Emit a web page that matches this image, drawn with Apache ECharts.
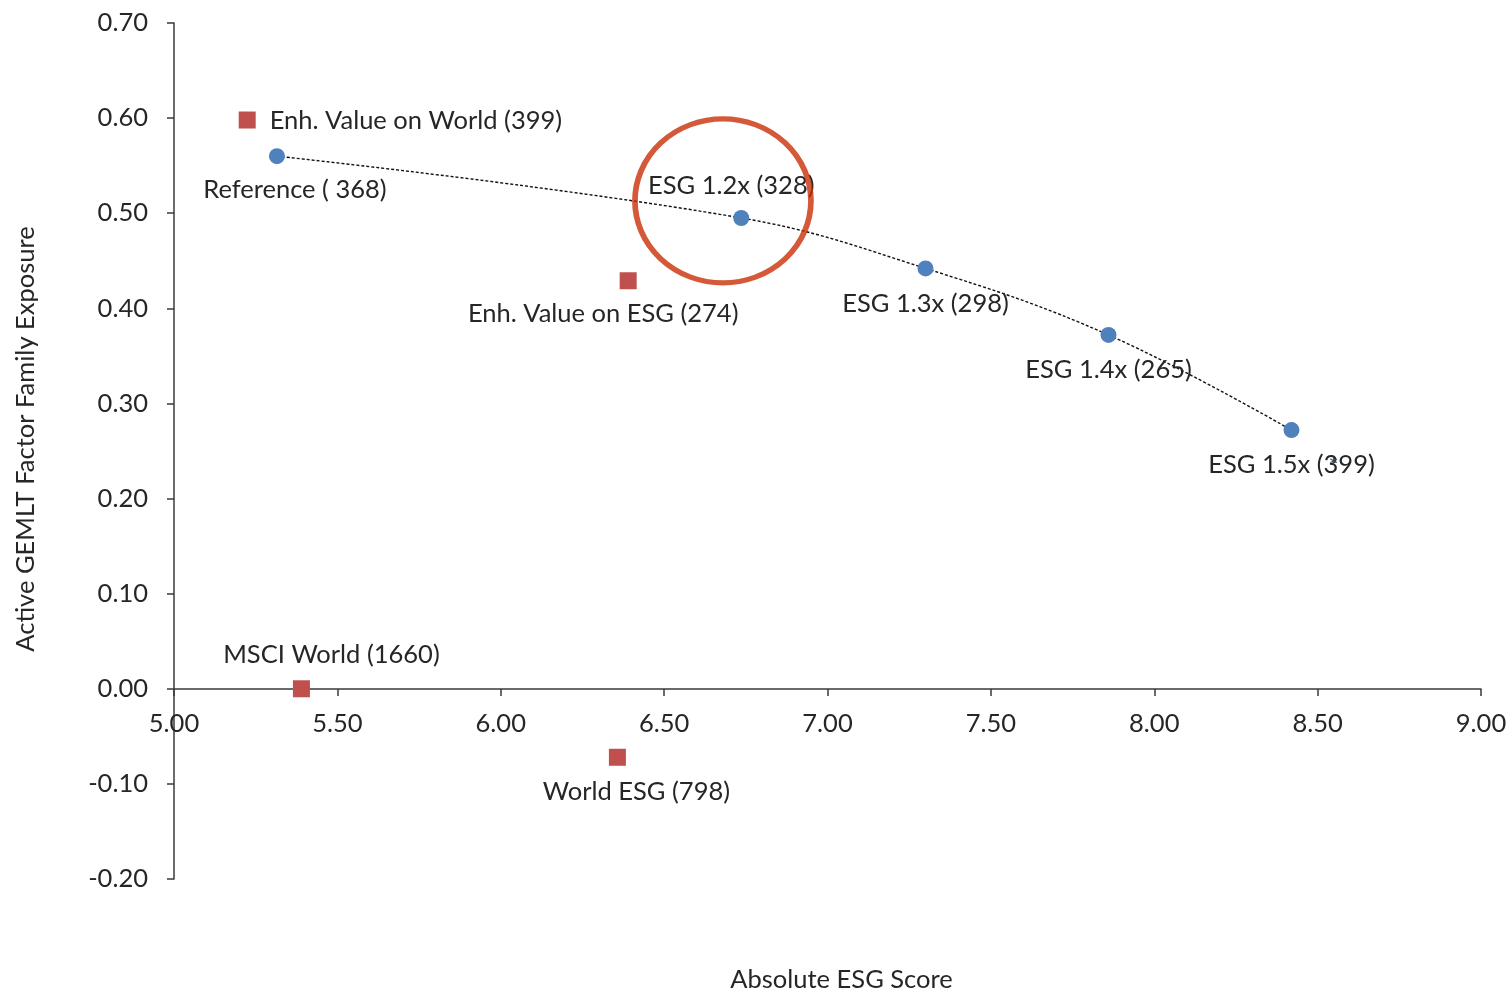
<!DOCTYPE html>
<html>
<head>
<meta charset="utf-8">
<title>Active GEMLT Factor Family Exposure vs Absolute ESG Score</title>
<script src="https://cdn.jsdelivr.net/npm/echarts@6/dist/echarts.min.js"></script>
<style>
  html, body { margin: 0; padding: 0; background: #ffffff; }
  #chart { width: 1509px; height: 991px; }
</style>
</head>
<body>
<div id="chart"></div>
<script>
// ESG-tilted portfolios (blue circles joined by the trend line)
const esgNames = ['Reference ( 368)', 'ESG 1.2x (328)', 'ESG 1.3x (298)', 'ESG 1.4x (265)', 'ESG 1.5x (399)'];
const esgScore = [5.315, 6.736, 7.30, 7.86, 8.42];
const esgExposure = [0.560, 0.495, 0.442, 0.372, 0.272];

// Benchmarks and value portfolios (red squares)
const benchNames = ['Enh. Value on World (399)', 'Enh. Value on ESG (274)', 'MSCI World (1660)', 'World ESG (798)'];
const benchScore = [5.224, 6.39, 5.39, 6.357];
const benchExposure = [0.598, 0.429, 0.000, -0.072];

// Highlighted portfolio ring
const ringCenter = [6.68, 0.513];

// Axis ticks
const xTicks = [5.0, 5.5, 6.0, 6.5, 7.0, 7.5, 8.0, 8.5, 9.0];
const yTicks = [-0.2, -0.1, 0.0, 0.1, 0.2, 0.3, 0.4, 0.5, 0.6, 0.7];

const FONT = 'Lato, "Noto Sans", sans-serif';
const TEXT = '#262626';
const AXIS = '#3a3a3a';

const W = 1509, H = 991;
const GRID = { left: 174, right: 28, top: 23, bottom: 112 };

// the horizontal axis sits on the zero line of the exposure axis
const yMin = yTicks[0], yMax = yTicks[yTicks.length - 1];
const plotH = H - GRID.top - GRID.bottom;
const xAxisLift = -Math.round((0 - yMin) / (yMax - yMin) * plotH);

// label placement for each point name
const labelPlacement = {
  'Reference ( 368)':          { position: 'bottom', offset: [18, 3] },
  'ESG 1.2x (328)':            { position: 'top',    offset: [-10, -1] },
  'ESG 1.3x (298)':            { position: 'bottom', offset: [0, 4] },
  'ESG 1.4x (265)':            { position: 'bottom', offset: [0, 4] },
  'ESG 1.5x (399)':            { position: 'bottom', offset: [0, 4] },
  'Enh. Value on World (399)': { position: 'right',  offset: [4, 1] },
  'Enh. Value on ESG (274)':   { position: 'bottom', offset: [-25, 2] },
  'MSCI World (1660)':         { position: 'top',    offset: [30, -2] },
  'World ESG (798)':           { position: 'bottom', offset: [19, 3] }
};

function buildPoints(names, xs, ys) {
  return names.map((n, i) => ({
    name: n,
    value: [xs[i], ys[i]],
    label: Object.assign({ show: true, formatter: n }, labelPlacement[n])
  }));
}

const labelStyle = { color: TEXT, fontFamily: FONT, fontSize: 25.5, distance: 10 };

const chart = echarts.init(document.getElementById('chart'), null, { renderer: 'canvas' });

chart.setOption({
  backgroundColor: '#ffffff',
  animation: false,
  grid: Object.assign({ containLabel: false, outerBoundsMode: 'none' }, GRID),
  xAxis: {
    type: 'value',
    position: 'bottom',
    offset: xAxisLift,
    min: xTicks[0],
    max: xTicks[xTicks.length - 1],
    interval: 0.5,
    name: 'Absolute ESG Score',
    nameLocation: 'middle',
    nameGap: 278,
    nameTextStyle: { color: TEXT, fontFamily: FONT, fontSize: 25.5, padding: [0, 0, 0, 28] },
    axisLine: { onZero: false, lineStyle: { color: AXIS, width: 1.5 } },
    axisTick: { show: true, inside: false, length: 7, lineStyle: { color: AXIS, width: 1.5 } },
    axisLabel: { color: TEXT, fontFamily: FONT, fontSize: 25.5, margin: 22, formatter: v => v.toFixed(2) },
    splitLine: { show: false }
  },
  yAxis: {
    type: 'value',
    min: yMin,
    max: yMax,
    interval: 0.1,
    name: 'Active GEMLT Factor Family Exposure',
    nameLocation: 'middle',
    nameGap: 135,
    nameTextStyle: { color: TEXT, fontFamily: FONT, fontSize: 25.5, padding: [0, 0, 0, 24] },
    axisLine: { show: true, onZero: false, lineStyle: { color: AXIS, width: 1.5 } },
    axisTick: { show: true, inside: false, length: 7, lineStyle: { color: AXIS, width: 1.5 } },
    axisLabel: { color: TEXT, fontFamily: FONT, fontSize: 25.5, margin: 26, formatter: v => v.toFixed(2) },
    splitLine: { show: false }
  },
  series: [
    {
      name: 'trend',
      type: 'line',
      data: esgScore.map((x, i) => [x, esgExposure[i]]),
      smooth: 0.4,
      showSymbol: false,
      symbol: 'none',
      lineStyle: { color: '#111111', width: 1.4, type: [3, 2] },
      z: 2,
      silent: true
    },
    {
      name: 'ESG portfolios',
      type: 'scatter',
      data: buildPoints(esgNames, esgScore, esgExposure),
      symbol: 'circle',
      symbolSize: 16,
      itemStyle: { color: '#4f81bd', opacity: 1 },
      label: labelStyle,
      z: 3,
      markPoint: {
        silent: true,
        symbol: 'circle',
        symbolSize: 2,
        itemStyle: { color: 'rgba(0,0,0,0)' },
        data: [{ coord: [esgScore[4], esgExposure[4]] }],
        label: { show: true, formatter: '*', position: 'inside', offset: [42, 36], color: '#3c4a60', fontFamily: FONT, fontSize: 24 }
      }
    },
    {
      name: 'Benchmarks',
      type: 'scatter',
      data: buildPoints(benchNames, benchScore, benchExposure),
      symbol: 'rect',
      symbolSize: 17,
      itemStyle: { color: '#c0504d', opacity: 1 },
      label: labelStyle,
      z: 3
    },
    {
      name: 'highlight',
      type: 'scatter',
      data: [ringCenter],
      symbol: 'circle',
      symbolSize: [176, 164],
      itemStyle: { color: 'rgba(0,0,0,0)', borderColor: '#c93008', borderWidth: 5.5 },
      z: 4,
      silent: true
    }
  ]
});
</script>
</body>
</html>
